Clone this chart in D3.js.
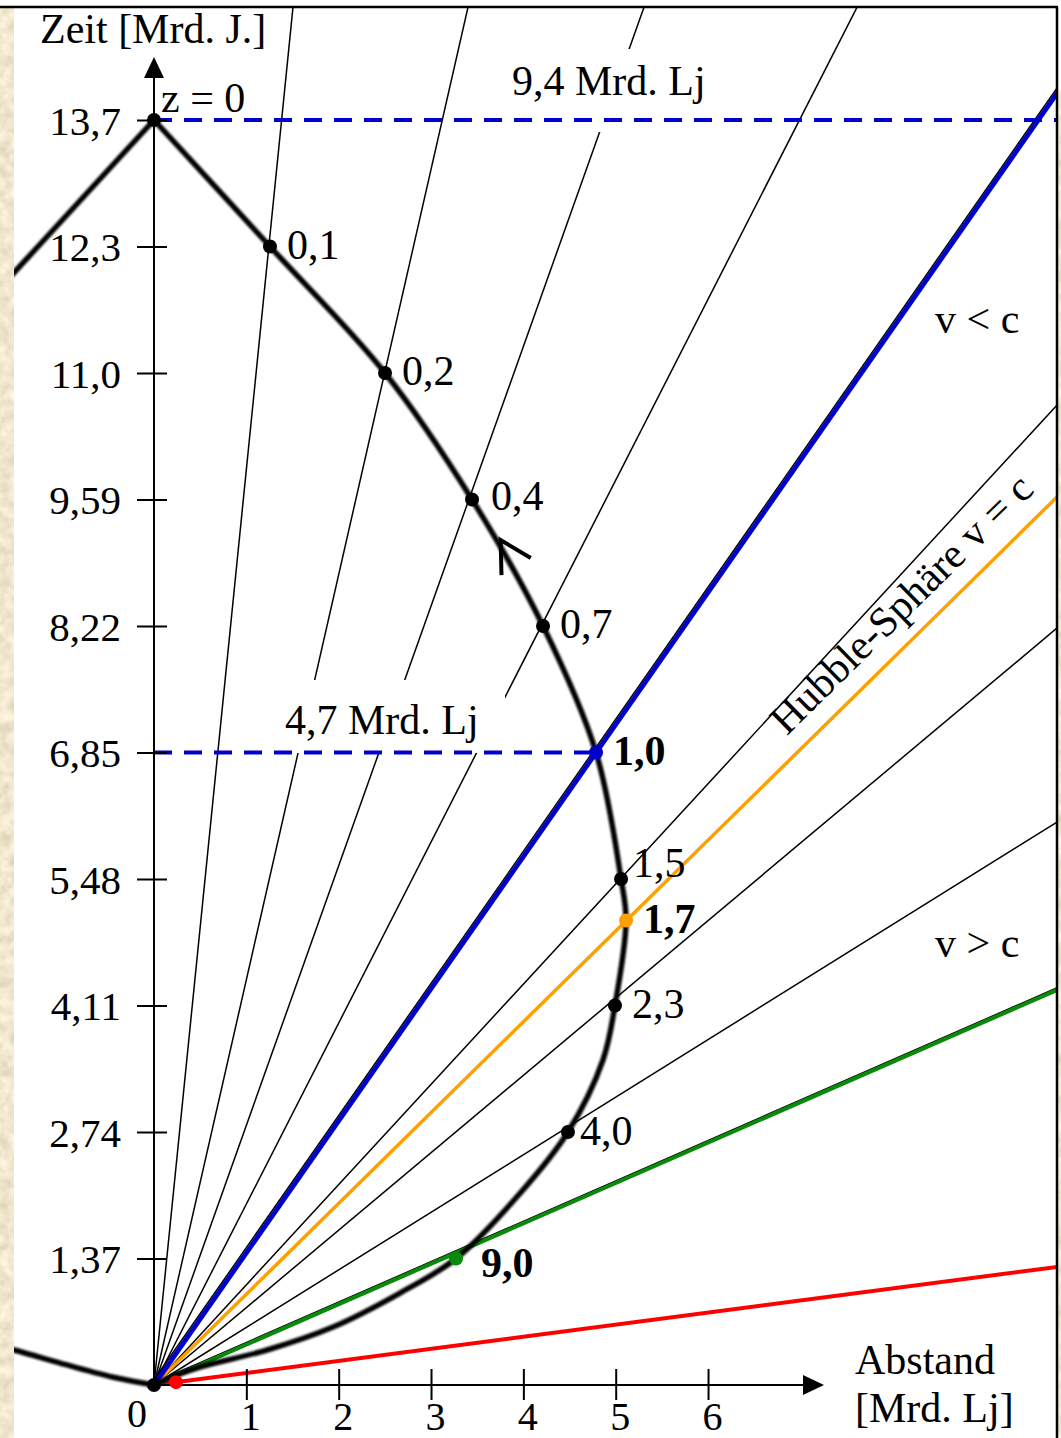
<!DOCTYPE html>
<html>
<head>
<meta charset="utf-8">
<script src="https://cdn.jsdelivr.net/npm/d3@7"></script>
<style>
  html, body { margin: 0; padding: 0; background: #fff; }
  svg { display: block; }
</style>
</head>
<body>
<svg id="chart" width="1061" height="1438"></svg>
<script>
// ---- data -------------------------------------------------------------
// cosmic time ticks (Gyr), one step = 1.37 Gyr
const timeTicks = [1.37, 2.74, 4.11, 5.48, 6.85, 8.22, 9.59, 10.96, 12.33, 13.7];
const timeTickLabels = ["1,37", "2,74", "4,11", "5,48", "6,85", "8,22", "9,59", "11,0", "12,3", "13,7"];
// proper distance ticks (billion light years)
const distTicks = [1, 2, 3, 4, 5, 6];

// past light cone, right branch: [distance, time]
const lightCone = [
  [0, 0], [0.249, 0.108], [0.498, 0.195], [1.224, 0.379], [1.938, 0.628],
  [2.664, 0.996], [3.271, 1.37], [3.95, 2.06], [4.483, 2.74],
  [4.862, 3.52], [4.992, 4.11], [5.112, 5.03], [5.058, 5.48], [4.787, 6.85],
  [4.213, 8.22], [3.444, 9.59], [2.502, 10.96], [1.256, 12.33], [0, 13.7]
];
// left branch of the cone, upper and lower parts
const leftConeUpper = [[0, 13.7], [-1.256, 12.33], [-2.0, 11.52]];
const leftConeLower = [[0, 0], [-0.401, 0.076], [-0.942, 0.217], [-1.516, 0.379], [-1.9, 0.47]];

// redshift marks on the light cone
const redshiftLabels = ["0,1", "0,2", "0,4", "0,7", "1,0", "1,5", "1,7", "2,3", "4,0", "9,0"];
const redshiftDist   = [1.256, 2.502, 3.444, 4.213, 4.787, 5.058, 5.112, 4.992, 4.483, 3.271];
const redshiftTime   = [12.33, 10.96, 9.59, 8.22, 6.85, 5.48, 5.03, 4.11, 2.74, 1.37];

// galaxy world lines from the origin: far end [distance, time]
const galaxyLines = [
  [1.505, 14.92], [3.40, 14.92], [5.306, 14.92], [7.613, 14.92],
  [9.779, 10.613], [9.779, 8.198], [9.779, 6.097]
];
const blueLine   = [9.779, 13.99];  // galaxy seen at z = 1,0
const hubbleLine = [9.779, 9.617];  // Hubble sphere, v = c
const greenLine  = [9.779, 4.278];  // galaxy seen at z = 9,0
const redLine    = [9.779, 1.278];  // earliest emitters
const redDotDist = 0.238;

const todayTime = 13.7;
const emitTime = 6.85;
const emitDist = 4.787;

// ---- scales -----------------------------------------------------------
const x = d3.scaleLinear().domain([0, 9.779]).range([154, 1057]);
const y = d3.scaleLinear().domain([0, 13.7]).range([1385, 120]);

const svg = d3.select("#chart");
const FONT = "'Liberation Serif', 'Times New Roman', serif";
const BLUE = "#0000cc", ORANGE = "#ffa000", GREEN = "#0a8a0a", RED = "#ff0000";

// ---- defs: parchment texture, soft stroke, clip ------------------------
const defs = svg.append("defs");
const parch = defs.append("filter").attr("id", "parch")
  .attr("x", 0).attr("y", 0).attr("width", "100%").attr("height", "100%");
parch.append("feTurbulence").attr("type", "fractalNoise")
  .attr("baseFrequency", "0.09").attr("numOctaves", 4).attr("seed", 7).attr("result", "n");
parch.append("feColorMatrix").attr("in", "n").attr("type", "matrix")
  .attr("values", "0.4 0 0 0 0.68  0.4 0 0 0 0.6  0.4 0 0 0 0.42  0 0 0 0 1");
const soft = defs.append("filter").attr("id", "soft")
  .attr("x", "-5%").attr("y", "-5%").attr("width", "110%").attr("height", "110%");
soft.append("feGaussianBlur").attr("stdDeviation", 1.0);
defs.append("clipPath").attr("id", "plotClip")
  .append("rect").attr("x", 14).attr("y", 8).attr("width", 1043).attr("height", 1430);

// background: parchment strips around the white panel
svg.append("rect").attr("x", 0).attr("y", 8).attr("width", 14).attr("height", 1430)
  .attr("filter", "url(#parch)");
svg.append("rect").attr("x", 1058).attr("y", 90).attr("width", 3).attr("height", 1348)
  .attr("filter", "url(#parch)");

const plot = svg.append("g").attr("clip-path", "url(#plotClip)");

const seg = (a, b) => d3.line()([[x(a[0]), y(a[1])], [x(b[0]), y(b[1])]]);
const extend = p => [p[0] * 1.5, p[1] * 1.5];

// ---- galaxy world lines ----------------------------------------------
plot.append("g").selectAll("path").data(galaxyLines).join("path")
  .attr("d", p => seg([0, 0], extend(p)))
  .attr("fill", "none").attr("stroke", "#000").attr("stroke-width", 1.5);

// white boxes behind the distance captions
plot.append("rect").attr("x", 505).attr("y", 49).attr("width", 212).attr("height", 83).attr("fill", "#fff");
plot.append("rect").attr("x", 280).attr("y", 680).attr("width", 225).attr("height", 73).attr("fill", "#fff");

// coloured world lines
plot.append("path").attr("d", seg([0, 0], extend(redLine)))
  .attr("stroke", RED).attr("stroke-width", 4).attr("fill", "none");
plot.append("path").attr("d", seg([0, 0], extend(greenLine)))
  .attr("transform", "translate(-1,-1.8)")
  .attr("stroke", "#000").attr("stroke-width", 1.3).attr("fill", "none");
plot.append("path").attr("d", seg([0, 0], extend(greenLine)))
  .attr("stroke", GREEN).attr("stroke-width", 4).attr("fill", "none");
plot.append("path").attr("d", seg([0, 0], extend(hubbleLine)))
  .attr("stroke", ORANGE).attr("stroke-width", 3.5).attr("fill", "none");
plot.append("path").attr("d", seg([0, 0], extend(blueLine)))
  .attr("transform", "translate(-2.5,-1.7)")
  .attr("stroke", "#000").attr("stroke-width", 1.5).attr("fill", "none");
plot.append("path").attr("d", seg([0, 0], extend(blueLine)))
  .attr("stroke", BLUE).attr("stroke-width", 4.8).attr("fill", "none");

// dashed time markers
plot.append("path").attr("d", seg([0, todayTime], [9.779, todayTime]))
  .attr("stroke", BLUE).attr("stroke-width", 4).attr("stroke-dasharray", "18,12").attr("fill", "none");
plot.append("path").attr("d", seg([0, emitTime], [emitDist, emitTime]))
  .attr("stroke", BLUE).attr("stroke-width", 4).attr("stroke-dasharray", "18,12").attr("fill", "none");

// ---- past light cone ---------------------------------------------------
const coneLine = d3.line().x(d => x(d[0])).y(d => y(d[1])).curve(d3.curveCatmullRom.alpha(0.5));
const coneG = plot.append("g").attr("filter", "url(#soft)");
const conePath = coneG.append("path").attr("d", coneLine(lightCone))
  .attr("fill", "none").attr("stroke", "#000").attr("stroke-width", 5.5);
coneG.append("path").attr("d", d3.line().x(d => x(d[0])).y(d => y(d[1]))(leftConeUpper))
  .attr("fill", "none").attr("stroke", "#000").attr("stroke-width", 5.5);
coneG.append("path").attr("d", coneLine(leftConeLower))
  .attr("fill", "none").attr("stroke", "#000").attr("stroke-width", 5.5);

// direction arrow on the cone (light travelling towards us)
(function () {
  const node = conePath.node();
  const total = node.getTotalLength();
  const target = y(9.15);
  let lo = 0, hi = total;
  for (let i = 0; i < 40; i++) {
    const mid = (lo + hi) / 2;
    if (node.getPointAtLength(mid).y > target) lo = mid; else hi = mid;
  }
  const l = (lo + hi) / 2;
  const p = node.getPointAtLength(l);
  const a = node.getPointAtLength(l - 2), b = node.getPointAtLength(l + 2);
  const ang = Math.atan2(b.y - a.y, b.x - a.x);
  const back = ang + Math.PI, spread = 29 * Math.PI / 180, len = 35;
  const tip = [p.x + 4, p.y];
  const arm = s => [tip[0] + len * Math.cos(back + s), tip[1] + len * Math.sin(back + s)];
  svg.append("path").attr("d", d3.line()([arm(spread), tip, arm(-spread)]))
    .attr("fill", "none").attr("stroke", "#000").attr("stroke-width", 4)
    .attr("stroke-linejoin", "miter");
})();

// ---- axes --------------------------------------------------------------
const axisY = d3.axisLeft(y).tickValues(timeTicks)
  .tickFormat((d, i) => timeTickLabels[i]).tickSize(0);
const gy = svg.append("g").attr("transform", `translate(${x(0)},0)`).call(axisY);
gy.select(".domain").remove();
gy.selectAll(".tick line").attr("x1", -17).attr("x2", 13).attr("stroke", "#000").attr("stroke-width", 2);
gy.selectAll(".tick text").attr("x", -33).attr("dy", "0.35em")
  .attr("font-family", FONT).attr("font-size", 41).attr("fill", "#000");

const axisX = d3.axisBottom(x).tickValues(distTicks).tickFormat(d => d).tickSize(0);
const gx = svg.append("g").attr("transform", `translate(0,${y(0)})`).call(axisX);
gx.select(".domain").remove();
gx.selectAll(".tick line").attr("y1", -16).attr("y2", 15).attr("stroke", "#000").attr("stroke-width", 2);
gx.selectAll(".tick text").attr("x", 4).attr("y", 45).attr("dy", 0)
  .attr("font-family", FONT).attr("font-size", 40).attr("fill", "#000");

// axis lines with arrow heads
svg.append("line").attr("x1", x(0)).attr("y1", y(0)).attr("x2", x(0)).attr("y2", 72)
  .attr("stroke", "#000").attr("stroke-width", 2);
svg.append("path").attr("d", d3.line()([[x(0), 57], [x(0) - 10, 78], [x(0) + 10, 78]]) + "Z").attr("fill", "#000");
svg.append("line").attr("x1", x(0)).attr("y1", y(0)).attr("x2", 810).attr("y2", y(0))
  .attr("stroke", "#000").attr("stroke-width", 2);
svg.append("path").attr("d", d3.line()([[824, y(0)], [803, y(0) - 10], [803, y(0) + 10]]) + "Z").attr("fill", "#000");

// panel border
svg.append("line").attr("x1", 0).attr("y1", 7).attr("x2", 1058).attr("y2", 7)
  .attr("stroke", "#000").attr("stroke-width", 2.5);
svg.append("line").attr("x1", 1057).attr("y1", 7).attr("x2", 1057).attr("y2", 1438)
  .attr("stroke", "#000").attr("stroke-width", 2.5);

// ---- dots --------------------------------------------------------------
const markColor = lbl => lbl === "1,0" ? BLUE : lbl === "1,7" ? ORANGE : lbl === "9,0" ? GREEN : "#000";
svg.append("g").selectAll("circle").data(redshiftLabels).join("circle")
  .attr("cx", (d, i) => x(redshiftDist[i])).attr("cy", (d, i) => y(redshiftTime[i]))
  .attr("r", 7).attr("fill", d => markColor(d));
svg.append("circle").attr("cx", x(0)).attr("cy", y(todayTime)).attr("r", 7).attr("fill", "#000");
svg.append("circle").attr("cx", x(0)).attr("cy", y(0)).attr("r", 7).attr("fill", "#000");
svg.append("circle").attr("cx", x(redDotDist)).attr("cy", y(redDotDist * redLine[1] / redLine[0]))
  .attr("r", 7).attr("fill", RED);

// ---- texts -------------------------------------------------------------
const text = (s, tx, ty, opts = {}) => svg.append("text")
  .attr("x", tx).attr("y", ty).text(s)
  .attr("font-family", FONT).attr("font-size", opts.size || 42)
  .attr("font-weight", opts.bold ? "bold" : "normal")
  .attr("text-anchor", opts.anchor || "start").attr("fill", "#000");

const labelNudge = { "1,5": [12, -2], "4,0": [12, 13], "9,0": [25, 18], "0,4": [19, 10] };
redshiftLabels.forEach((lbl, i) => {
  const [dx, dy] = labelNudge[lbl] || [17, 12];
  text(lbl, x(redshiftDist[i]) + dx, y(redshiftTime[i]) + dy, { bold: markColor(lbl) !== "#000" });
});

text("z = 0", 161, 112);
text("Zeit [Mrd. J.]", 40, 43);
text("0", 137, 1427, { size: 40, anchor: "middle" });
text("9,4 Mrd. Lj", 512, 95);
text("4,7 Mrd. Lj", 285, 734);
text("v < c", 935, 333);
text("v > c", 935, 957);
text("Abstand", 855, 1374);
text("[Mrd. Lj]", 855, 1422);

// Hubble sphere caption along the orange line
(function () {
  const x0 = x(0), y0 = y(0), x1 = x(hubbleLine[0]), y1 = y(hubbleLine[1]);
  const ang = Math.atan2(y1 - y0, x1 - x0);
  const f = (800 - x0) / (x1 - x0);
  const px = x0 + f * (x1 - x0), py = y0 + f * (y1 - y0);
  const nx = Math.sin(ang), ny = -Math.cos(ang);
  const ox = px + 19 * nx, oy = py + 19 * ny;
  svg.append("text").attr("transform", `translate(${ox},${oy}) rotate(${ang * 180 / Math.PI})`)
    .text("Hubble-Sphäre v = c")
    .attr("font-family", FONT).attr("font-size", 42).attr("fill", "#000");
})();
</script>
</body>
</html>
